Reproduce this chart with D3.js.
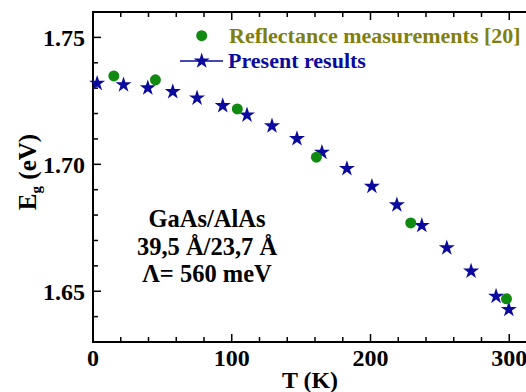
<!DOCTYPE html>
<html>
<head>
<meta charset="utf-8">
<script src="https://cdn.jsdelivr.net/npm/d3@7"></script>
<style>
  body { margin: 0; background: #fff; }
  text { font-family: "Liberation Serif", "Times New Roman", serif; font-weight: bold; }
</style>
</head>
<body>
<svg width="526" height="392"></svg>
<script>
// measured data
var reflT  = [15, 45, 104, 161, 229, 298];
var reflEg = [1.7348, 1.7333, 1.7218, 1.7028, 1.6769, 1.6470];

var presT  = [3, 22, 39.5, 57.5, 75, 93.5, 111, 129, 147, 165, 183, 201, 219, 237, 255, 272.5, 290.5, 299.7];
var presEg = [1.7319, 1.7313, 1.7301, 1.7286, 1.7261, 1.7231, 1.7194, 1.7151, 1.7101, 1.7047,
              1.6983, 1.6913, 1.6840, 1.6759, 1.6671, 1.6579, 1.6480, 1.6428];

var xTicks = [0, 100, 200, 300];
var yTicks = [1.65, 1.70, 1.75];
var legendLabels = ["Reflectance measurements [20]", "Present results"];
var noteLines = ["GaAs/AlAs", "39,5 \u00C5/23,7 \u00C5", "\u039B= 560 meV"];

var svg = d3.select("svg"),
    mLeft = 93, mRight = 537, mTop = 12, mBottom = 342;

var green = "#108a10", navy = "#0a0a9e", olive = "#808010";

var x = d3.scaleLinear().domain([0, 320]).range([mLeft, mRight]);
var y = d3.scaleLinear().domain([1.63, 1.76]).range([mBottom, mTop]);

var minorX = d3.range(0, 321, 20),
    minorY = d3.range(1.63, 1.7601, 0.01);

function isMajor(list, d) {
  return list.some(function(t) { return Math.abs(t - d) < 1e-6; });
}

// bottom axis
var gx = svg.append("g").attr("transform", "translate(0," + mBottom + ")");
gx.selectAll("line").data(minorX).enter().append("line")
    .attr("x1", function(d) { return x(d); }).attr("x2", function(d) { return x(d); })
    .attr("y1", 0).attr("y2", function(d) { return isMajor(xTicks, d) ? -8 : -5; })
    .attr("stroke", "#000").attr("stroke-width", 1.5);
gx.selectAll("text").data(xTicks).enter().append("text")
    .attr("x", function(d) { return x(d); }).attr("y", 24)
    .attr("text-anchor", "middle").attr("font-size", 24)
    .text(function(d) { return d; });

// top axis ticks
svg.append("g").attr("transform", "translate(0," + mTop + ")")
  .selectAll("line").data(minorX).enter().append("line")
    .attr("x1", function(d) { return x(d); }).attr("x2", function(d) { return x(d); })
    .attr("y1", 0).attr("y2", function(d) { return isMajor(xTicks, d) ? 8 : 5; })
    .attr("stroke", "#000").attr("stroke-width", 1.5);

// left axis
var gy = svg.append("g").attr("transform", "translate(" + mLeft + ",0)");
gy.selectAll("line").data(minorY).enter().append("line")
    .attr("y1", function(d) { return y(d); }).attr("y2", function(d) { return y(d); })
    .attr("x1", 0).attr("x2", function(d) { return isMajor(yTicks, d) ? 8 : 5; })
    .attr("stroke", "#000").attr("stroke-width", 1.5);
gy.selectAll("text").data(yTicks).enter().append("text")
    .attr("x", -8).attr("y", function(d) { return y(d); })
    .attr("dy", "0.35em").attr("text-anchor", "end").attr("font-size", 24)
    .text(d3.format(".2f"));

// frame
svg.append("path")
    .attr("d", "M" + mRight + "," + mTop + "H" + mLeft + "V" + mBottom + "H" + mRight)
    .attr("fill", "none").attr("stroke", "#000").attr("stroke-width", 2);

// axis titles
svg.append("text").attr("x", 310).attr("y", 388)
    .attr("text-anchor", "middle").attr("font-size", 24).text("T (K)");
var yl = svg.append("text")
    .attr("transform", "translate(36,172) rotate(-90)")
    .attr("text-anchor", "middle").attr("font-size", 25);
yl.append("tspan").text("E");
yl.append("tspan").attr("font-size", 15).attr("dy", 5).text("g");
yl.append("tspan").attr("dy", -5).text(" (eV)");

// series
var star = d3.symbol().type(d3.symbolStar).size(80);

svg.append("g").selectAll("path").data(presT).enter().append("path")
    .attr("d", star)
    .attr("transform", function(d, i) { return "translate(" + x(d) + "," + y(presEg[i]) + ")"; })
    .attr("fill", navy);

svg.append("g").selectAll("circle").data(reflT).enter().append("circle")
    .attr("cx", function(d) { return x(d); })
    .attr("cy", function(d, i) { return y(reflEg[i]); })
    .attr("r", 5.5).attr("fill", green);

// legend
svg.append("circle").attr("cx", 201.7).attr("cy", 35.7).attr("r", 5.5).attr("fill", green);
svg.append("text").attr("x", 229).attr("y", 43).attr("font-size", 22)
    .attr("fill", olive).text(legendLabels[0]);
svg.append("line").attr("x1", 180).attr("x2", 223).attr("y1", 61).attr("y2", 61)
    .attr("stroke", navy).attr("stroke-width", 1.5);
svg.append("path").attr("d", star).attr("transform", "translate(201.7,61)").attr("fill", navy);
svg.append("text").attr("x", 228).attr("y", 68).attr("font-size", 22)
    .attr("fill", navy).text(legendLabels[1]);

// annotation
svg.append("g").selectAll("text").data(noteLines).enter().append("text")
    .attr("x", 207).attr("y", function(d, i) { return 227 + i * 27.5; })
    .attr("text-anchor", "middle").attr("font-size", 24.5)
    .text(function(d) { return d; });
</script>
</body>
</html>
